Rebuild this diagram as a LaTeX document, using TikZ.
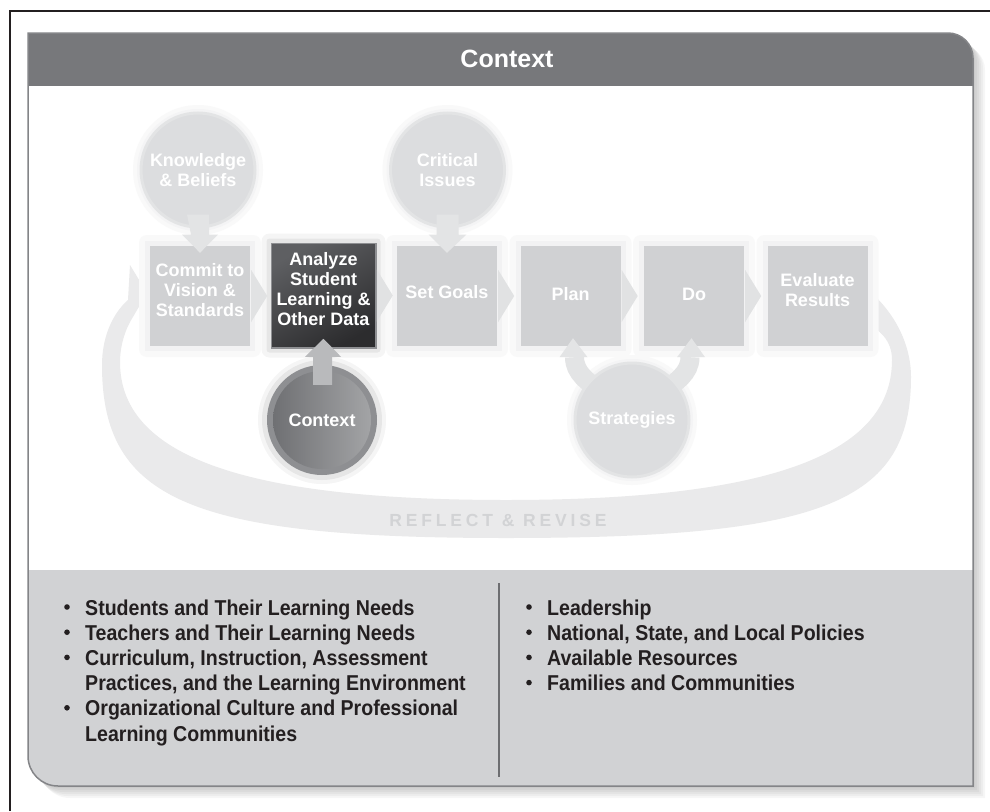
\documentclass[tikz,border=0pt]{standalone}
\usepackage{fontspec}
\setmainfont{Liberation Sans}
\newfontfamily\spacedfont[LetterSpace=22]{Liberation Sans}
\newfontfamily\listfont[FakeStretch=0.91]{Liberation Sans}
\usetikzlibrary{calc}
\definecolor{hdr}{HTML}{77787B}
\definecolor{lowgrey}{HTML}{D1D2D4}
\definecolor{panelborder}{HTML}{848588}
\definecolor{boxgrey}{HTML}{D0D1D3}
\definecolor{halo}{HTML}{F2F2F3}
\definecolor{halotwo}{HTML}{F9F9F9}
\definecolor{circhalo}{HTML}{F4F4F5}
\definecolor{circgrey}{HTML}{DCDDDF}
\definecolor{circedge}{HTML}{E3E4E5}
\definecolor{bandgrey}{HTML}{EAEAEB}
\definecolor{bandtext}{HTML}{D2D3D5}
\definecolor{chevgrey}{HTML}{E1E2E3}
\definecolor{arrowlight}{HTML}{E3E4E5}
\definecolor{arrowmid}{HTML}{B9BABC}
\definecolor{darktop}{HTML}{5E5F62}
\definecolor{darkbot}{HTML}{2C2C2E}
\definecolor{ctxring}{HTML}{8E8F92}
\definecolor{ctxleft}{HTML}{6F7073}
\definecolor{ctxright}{HTML}{A3A4A6}
\definecolor{listtext}{HTML}{231F20}
\definecolor{divider}{HTML}{6D6E71}
\tikzset{
  panelshape/.style={insert path={(28,33) -- (948,33) .. controls (961.8,33) and (973,44.2) .. (973,58) -- (973,786) -- (58,786) .. controls (41.4,786) and (28,772.6) .. (28,756) -- cycle}},
  stepbox/.style={minimum width=100pt, minimum height=100pt, inner sep=0pt, fill=boxgrey},
  boxtext/.style={text=white, align=center, inner sep=0pt, font=\fontsize{18}{20}\selectfont\bfseries},
  lightcirc/.style={circle, minimum size=114pt, inner sep=0pt, fill=circgrey, draw=circedge, line width=3pt, text=white, align=center, font=\fontsize{18}{20}\selectfont\bfseries},
  listitem/.style={anchor=base west, inner sep=0pt, text=listtext, font=\listfont\fontsize{21.5}{24}\selectfont\bfseries},
  bulletdot/.style={fill=listtext}
}
\begin{document}
\begin{tikzpicture}[x=1pt,y=-1pt]
\useasboundingbox (0,0) rectangle (990,811);
\fill[white] (0,0) rectangle (990,811);
% outer frame
\draw[listtext, line width=1.2pt] (10,811) -- (10,11) -- (990,11);
% panel shadow
\foreach \k in {2,4,6,8,10,12}{
  \fill[black, opacity=0.035, shift={(\k,\k)}, panelshape];
}
% panel
\begin{scope}
  \clip[panelshape];
  \fill[white] (20,20) rectangle (980,800);
  \fill[hdr] (20,20) rectangle (980,86);
  \fill[lowgrey] (20,570) rectangle (980,800);
\end{scope}
\draw[panelborder, line width=1.5pt, panelshape];
\node[text=white, font=\fontsize{25}{30}\selectfont\bfseries] (title) at (507,59) {Context};

% reflect and revise band
\fill[bandgrey] (862,285) .. controls (895,310) and (911,345) .. (911,377)
  .. controls (911,503) and (822,538) .. (506,538)
  .. controls (191,538) and (102,500) .. (102,365)
  .. controls (102,338) and (112,314) .. (128,300)
  -- (130,265) -- (147,293) -- (130,322)
  .. controls (123,335) and (120,350) .. (120,362)
  .. controls (120,456) and (244,500) .. (506,500)
  .. controls (768,500) and (892,455) .. (892,360)
  .. controls (892,340) and (880,330) .. (862,320) -- cycle;
\node[text=bandtext, font=\fontsize{17.5}{20}\selectfont\spacedfont\bfseries] (rr) at (498,520) {REFLECT \& REVISE};

% box positions
\coordinate (p1) at (200,296);
\coordinate (p2) at (323.5,295.5);
\coordinate (p3) at (447,296);
\coordinate (p4) at (570.5,296);
\coordinate (p5) at (694,296);
\coordinate (p6) at (817.5,296);
% halos
\foreach \p in {p1,p3,p4,p5,p6}{
  \fill[halotwo, rounded corners=8pt] ($(\p)+(-61,-61)$) rectangle ($(\p)+(61,61)$);
  \fill[halo] ($(\p)+(-55,-55)$) rectangle ($(\p)+(55,55)$);
}
\fill[black, opacity=0.04, rounded corners=8pt] ($(p2)+(-62,-62)$) rectangle ($(p2)+(62,62)$);
\fill[black, opacity=0.06, rounded corners=3pt] ($(p2)+(-57,-57)$) rectangle ($(p2)+(57,57)$);

% boxes
\node[stepbox] (b1) at (p1) {};
\node[stepbox, minimum width=103pt, minimum height=103pt, fill=none, draw=ctxring, line width=1.5pt] (b2) at (p2) {};
\shade[top color=darktop, bottom color=darkbot, shading angle=30] (b2.south west) rectangle (b2.north east);
\draw[ctxring, line width=1.5pt] (b2.south west) rectangle (b2.north east);
\node[stepbox] (b3) at (p3) {};
\node[stepbox] (b4) at (p4) {};
\node[stepbox] (b5) at (p5) {};
\node[stepbox] (b6) at (p6) {};

% chevrons between boxes
\foreach \a/\b in {b1/b2,b2/b3,b3/b4,b4/b5,b5/b6}{
  \fill[chevgrey] ($(\a.east)+(1,-26)$) -- ($(\a.east)+(17,0)$) -- ($(\a.east)+(1,26)$) -- cycle;
}

% box texts
\node[boxtext] (t1) at ($(b1)+(0,-6)$) {Commit to\\Vision \&\\Standards};
\node[boxtext] (t2) at ($(b2)+(0,-6)$) {Analyze\\Student\\Learning \&\\Other Data};
\node[boxtext] (t3) at ($(b3)+(0,-4)$) {Set Goals};
\node[boxtext] (t4) at ($(b4)+(0,-2)$) {Plan};
\node[boxtext] (t5) at ($(b5)+(0,-2)$) {Do};
\node[boxtext] (t6) at ($(b6)+(0,-6)$) {Evaluate\\Results};

% circle glows
\coordinate (q1) at (198,170);
\coordinate (q2) at (447.5,170);
\coordinate (q3) at (322,420);
\coordinate (q4) at (632,420);
\foreach \q in {q1,q2,q4}{
  \fill[halotwo] (\q) circle (65);
  \fill[circhalo] (\q) circle (61);
}
\fill[black, opacity=0.04] (q3) circle (64);
\fill[black, opacity=0.06] (q3) circle (60);

% strategies arrow shafts (behind circle)
\draw[arrowlight, line width=19pt] ($(b4.south)+(4,11)$) .. controls +(0,16) and +(-14,-10) .. ($(q4)+(-30,-28)$);
\draw[arrowlight, line width=19pt] ($(b5.south)+(-4,11)$) .. controls +(0,16) and +(14,-10) .. ($(q4)+(30,-28)$);

% circles
\node[lightcirc] (c1) at (q1) {Knowledge\\\& Beliefs};
\node[lightcirc] (c2) at (q2) {Critical\\Issues};
\node[lightcirc] (c4) at (q4) {Strategies};
\node[circle, minimum size=110pt, inner sep=0pt, fill=ctxring] (c3) at (q3) {};
\shade[left color=ctxleft, right color=ctxright] (c3) circle (49);
\node[text=white, font=\fontsize{18}{20}\selectfont\bfseries] (t3c) at (c3) {Context};

% arrows from circles into boxes
\fill[arrowlight] ($(c1.south)+(-11,-14)$) -- ($(c1.south)+(11,-14)$) -- ($(c1.south)+(11,6)$) -- ($(c1.south)+(20,6)$) -- ($(b1.north)+(0,7)$) -- ($(c1.south)+(-16,6)$) -- ($(c1.south)+(-7,6)$) -- cycle;
\fill[arrowlight] ($(c2.south)+(-11,-14)$) -- ($(c2.south)+(11,-14)$) -- ($(c2.south)+(11,6)$) -- ($(c2.south)+(19,6)$) -- ($(b3.north)+(0,7)$) -- ($(c2.south)+(-19,6)$) -- ($(c2.south)+(-11,6)$) -- cycle;
\fill[arrowmid] ($(c3.north)+(-9,20)$) -- ($(c3.north)+(10,20)$) -- ($(c3.north)+(10,-8)$) -- ($(c3.north)+(19,-8)$) -- ($(b2.south)+(0,-9)$) -- ($(c3.north)+(-17,-8)$) -- ($(c3.north)+(-9,-8)$) -- cycle;
\fill[arrowlight] ($(b4.south)+(-11,11)$) -- ($(b4.south)+(17,11)$) -- ($(b4.south)+(2.5,-8)$) -- cycle;
\fill[arrowlight] ($(b5.south)+(-17,11)$) -- ($(b5.south)+(11,11)$) -- ($(b5.south)+(-2.5,-8)$) -- cycle;

% divider
\draw[divider, line width=2pt] (499,583) -- (499,777);

% left list
\foreach \y in {607,632.2,657.4,707.8}{ \fill[bulletdot] (67,\y) circle (2.8); }
\node[listitem] (l1) at (85,615) {Students and Their Learning Needs};
\node[listitem] (l2) at (85,640.2) {Teachers and Their Learning Needs};
\node[listitem] (l3) at (85,665.4) {Curriculum, Instruction, Assessment};
\node[listitem] (l4) at (85,690.6) {Practices, and the Learning Environment};
\node[listitem] (l5) at (85,715.8) {Organizational Culture and Professional};
\node[listitem] (l6) at (85,741) {Learning Communities};
% right list
\foreach \y in {607,632.2,657.4,682.6}{ \fill[bulletdot] (529,\y) circle (2.8); }
\node[listitem] (r1) at (547,615) {Leadership};
\node[listitem] (r2) at (547,640.2) {National, State, and Local Policies};
\node[listitem] (r3) at (547,665.4) {Available Resources};
\node[listitem] (r4) at (547,690.6) {Families and Communities};
\end{tikzpicture}
\end{document}
